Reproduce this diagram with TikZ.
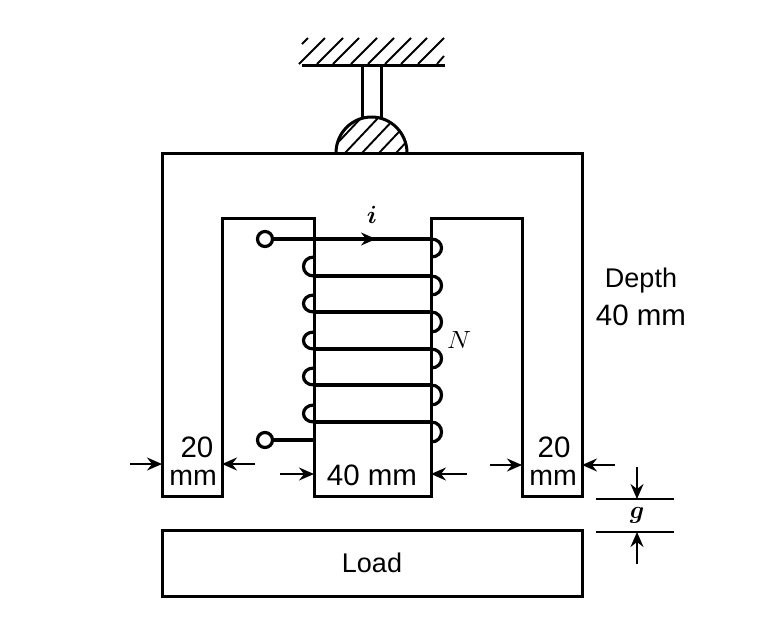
\documentclass[tikz,border=0pt]{standalone}
\usepackage{bm}
\usepackage{fontspec}
\setmainfont{Liberation Sans}
\usetikzlibrary{arrows.meta}
\usetikzlibrary{positioning}
\tikzset{
  core/.style={line width=3pt,line join=miter},
  coil/.style={line width=3.2pt},
  thin hatch/.style={line width=1.9pt},
  dim/.style={line width=1.9pt,-{Stealth[length=15pt,width=13pt,inset=5pt]}},
  terminal/.style={circle,draw,fill=white,line width=3.2pt,inner sep=0pt,minimum size=15pt},
  label/.style={inner sep=0pt,font=\fontsize{27}{30}\selectfont},
  biglabel/.style={inner sep=0pt,font=\fontsize{29.5}{34}\selectfont},
  mmlabel/.style={inner sep=0pt,font=\fontsize{28.5}{32}\selectfont},
  mathlabel/.style={inner sep=0pt,font=\fontsize{36}{40}\selectfont},
}
\begin{document}
\begin{tikzpicture}[x=1pt,y=-1pt]
        \useasboundingbox (0,0) rectangle (760,630);
        % ceiling
        \draw[core] (302,65) -- (445,65);
        \draw[thin hatch] (302,44) -- (308,38);
        \foreach \x in {325,343,359,377,394,411,427,444}
            \draw[thin hatch] (\x-26,64) -- (\x,38);
        \draw[thin hatch] (437,64) -- (444,56);
        % rod and pivot
        \draw[core] (362,65) -- (362,119);
        \draw[core] (381,65) -- (381,119);
        \begin{scope}
            \clip (336,153) arc[start angle=180,end angle=360,x radius=35.5,y radius=36] -- cycle;
            \foreach \x in {345,362,379,396,413,430}
                \draw[thin hatch] (\x-34,153) -- (\x,117);
        \end{scope}
        \draw[core] (336,153) arc[start angle=180,end angle=360,x radius=35.5,y radius=36];
        % core
        \draw[core] (162,153) -- (582,153) -- (582,496) -- (522,496) -- (522,218) -- (431,218) -- (431,496)
            -- (314,496) -- (314,218) -- (222,218) -- (222,496) -- (162,496) -- cycle;
        \node[draw,core,minimum width=420pt,minimum height=66pt,inner sep=0pt,label] (load) at (372,563) {Load};
        % winding
        \node[terminal] (terma) at (265,239) {};
        \node[terminal] (termb) at (265,440) {};
        \coordinate (enda) at (431,239);
        \coordinate (endb) at (314,440);
        \coordinate (head) at (376,239);
        \draw[coil] (terma) -- (enda);
        \draw[coil] (termb) -- (endb);
        \draw[dim] (terma) -- (head);
        \foreach \y in {276,312,349,385,422}
            \draw[coil] (314,\y) -- (431,\y);
        \foreach \a/\b in {239/257,276/295,312/332,349/368,385/405,422/442}
            \draw[coil] (431,\a) .. controls (445,\a) and (445,\b) .. (431,\b);
        \foreach \a/\b in {257/276,295/312,332/349,368/385,405/422}
            \draw[coil] (314,\a) .. controls (300,\a) and (300,\b) .. (314,\b);
        % labels
        \node[mathlabel] (cur) at (372,215) {$\bm{i}$};
        \node[mathlabel,xscale=1.1] (turns) at (459,340) {$N$};
        \node[label] (depth) at (641,281) {Depth};
        \node[biglabel] (depthb) at (641,315) {40 mm};
        \node[biglabel] (wa) at (197,447) {20};
        \node[mmlabel] (ma) at (193,478) {mm};
        \node[biglabel] (wb) at (554,447) {20};
        \node[mmlabel] (mb) at (553,478) {mm};
        \node[biglabel] (wc) at (372,475) {40 mm};
        \node[mathlabel] (gap) at (637,515) {$\bm{g}$};
        % dimension arrows
        \coordinate (aa) at (130,464); \coordinate (ab) at (162,464);
        \coordinate (ac) at (255,464); \coordinate (ad) at (222,464);
        \coordinate (ba) at (280,474); \coordinate (bb) at (314,474);
        \coordinate (bc) at (467,474); \coordinate (bd) at (431,474);
        \coordinate (ca) at (490,465); \coordinate (cb) at (522,465);
        \coordinate (cc) at (615,465); \coordinate (cd) at (582,465);
        \coordinate (da) at (637,467); \coordinate (db) at (637,499);
        \coordinate (dc) at (637,564); \coordinate (dd) at (637,532);
        \draw[dim] (aa) -- (ab);
        \draw[dim] (ac) -- (ad);
        \draw[dim] (ba) -- (bb);
        \draw[dim] (bc) -- (bd);
        \draw[dim] (ca) -- (cb);
        \draw[dim] (cc) -- (cd);
        \draw[dim] (da) -- (db);
        \draw[dim] (dc) -- (dd);
        \draw[line width=1.9pt] (596,499) -- (674,499);
        \draw[line width=1.9pt] (596,532) -- (674,532);
    \end{tikzpicture}
\end{document}
